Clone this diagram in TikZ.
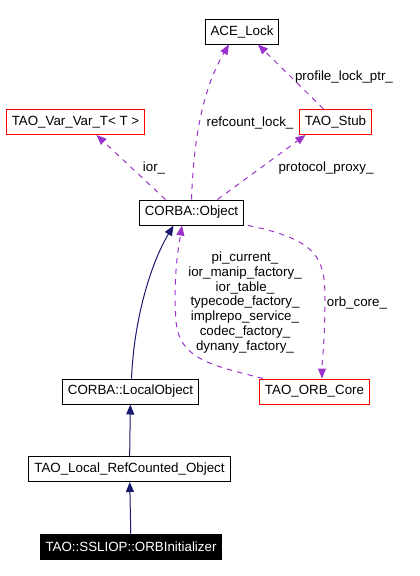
\documentclass[tikz,border=0pt]{standalone}
\usepackage{fontspec}
\setmainfont{Liberation Sans}
\usetikzlibrary{arrows.meta, calc}
\definecolor{inhblue}{HTML}{191970}
\definecolor{usepurple}{HTML}{9A32CD}

\begin{document}
\begin{tikzpicture}[x=0.75pt, y=-0.75pt,
    cls/.style={draw, line width=0.75pt, inner xsep=4.1pt, inner ysep=0pt,
        minimum height=18.75pt, font=\fontsize{10}{11.1}\selectfont},
    clsred/.style={cls, draw=red},
    clsmain/.style={cls, fill=black, text=white},
    inherit/.style={inhblue, line width=0.75pt, -{Triangle[length=7.5pt, width=6pt]}},
    uses/.style={usepurple, line width=0.75pt, dash pattern=on 4pt off 4pt,
        -{Triangle[length=7.5pt, width=6pt]}},
    lbl/.style={font=\fontsize{10}{11.1}\selectfont, inner sep=0pt, align=center}]

    \useasboundingbox (0,0) rectangle (419,576);

    %% Classes
    \node[cls] (ace) at (242,31.5) {ACE\_Lock};
    \node[clsred] (var) at (75.5,122) {TAO\_Var\_Var\_T< T >};
    \node[clsred] (stub) at (335.5,122) {TAO\_Stub};
    \node[cls] (obj) at (191.5,212.5) {CORBA::Object};
    \node[cls] (lobj) at (130.5,391.5) {CORBA::LocalObject};
    \node[clsred] (orb) at (314.5,391.5) {TAO\_ORB\_Core};
    \node[cls] (refobj) at (129.5,469) {TAO\_Local\_RefCounted\_Object};
    \node[clsmain] (init) at (131,546.5) {TAO::SSLIOP::ORBInitializer};

    %% Inheritance
    \foreach \a/\b in {init/refobj, refobj/lobj}
        \draw[inherit] (\a) -- (\b);
    \draw[inherit] ($(lobj.north)+(1,0)$) .. controls (134,320) and (150,265) .. ($(obj.south)+(-18,0)$);

    %% Members
    \draw[uses] ($(obj.north)+(-26,0)$) -- ($(var.south)+(21,0)$);
    \draw[uses] (obj.north) .. controls (194,130) and (205,85) .. ($(ace.south)+(-13,0)$);
    \draw[uses] ($(stub.north)+(-12,0)$) -- ($(ace.south)+(16,0)$);
    \draw[uses] ($(obj.north)+(26,0)$) -- ($(stub.south)+(-30,0)$);
    \draw[uses] ($(obj.south east)+(4,0)$) .. controls (320,240) and (325,260) .. (325,300)
        .. controls (325,340) and (322,360) .. ($(orb.north)+(7.5,0)$);
    \draw[uses] ($(orb.north west)+(4,0)$) .. controls (215,366) and (178,360) .. (176,320)
        .. controls (173,280) and (178,250) .. ($(obj.south)+(-9.5,0)$);

    %% Labels
    \node[lbl] (lior) at (154,168) {ior\_};
    \node[lbl] (lref) at (250,123) {refcount\_lock\_};
    \node[lbl] (lprof) at (344,77) {profile\_lock\_ptr\_};
    \node[lbl] (lproto) at (326,168) {protocol\_proxy\_};
    \node[lbl] (lorb) at (357,303) {orb\_core\_};
    \node[lbl] (lmulti) at (245,302.5) {pi\_current\_\\ior\_manip\_factory\_\\ior\_table\_\\
        typecode\_factory\_\\implrepo\_service\_\\codec\_factory\_\\dynany\_factory\_};

\end{tikzpicture}
\end{document}
